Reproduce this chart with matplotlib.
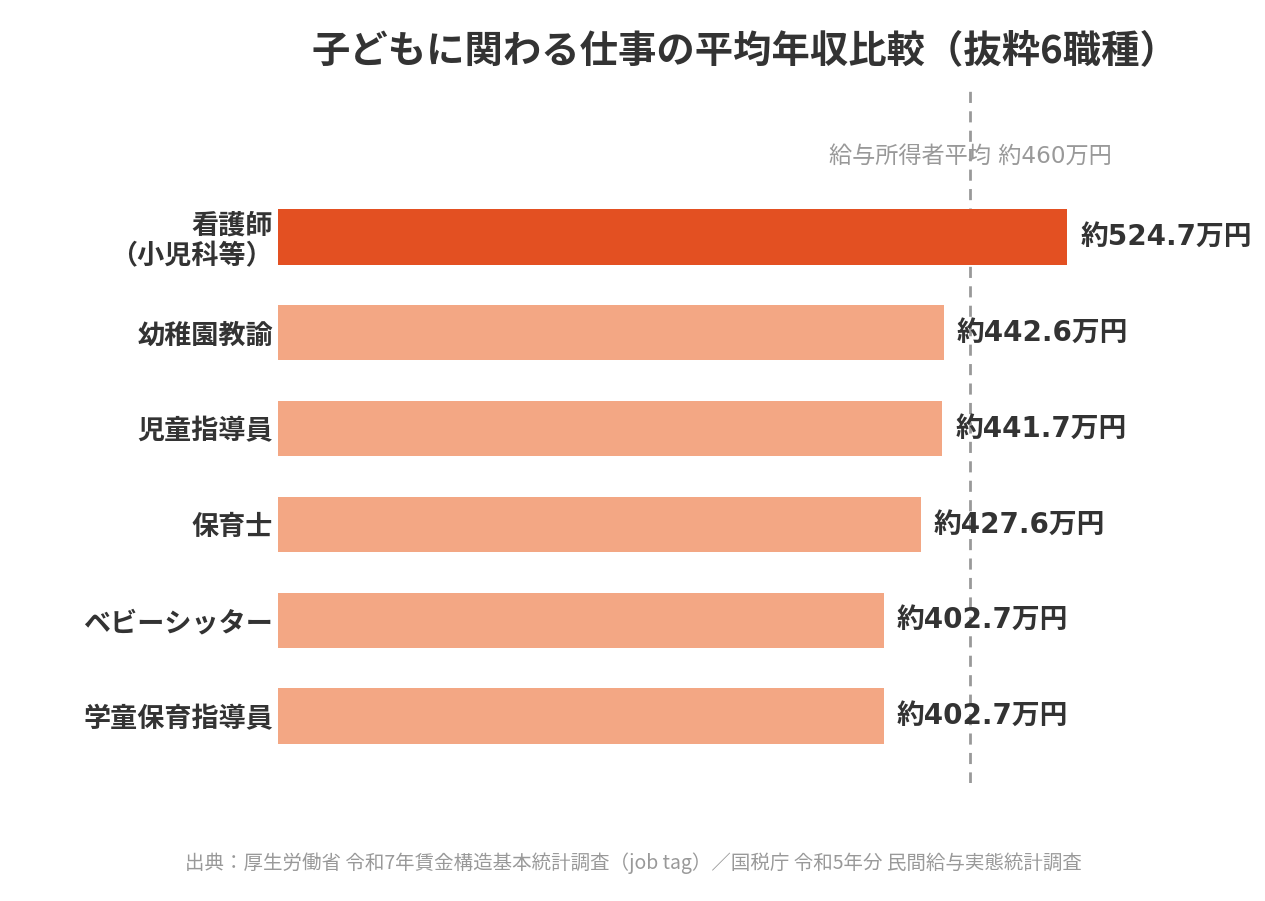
import matplotlib
matplotlib.use("Agg")
import matplotlib.pyplot as plt

plt.rcParams['font.family'] = ['Noto Sans CJK JP', 'DejaVu Sans']

categories = ["看護師\n（小児科等）", "幼稚園教諭", "児童指導員", "保育士", "ベビーシッター", "学童保育指導員"]
values = [524.7, 442.6, 441.7, 427.6, 402.7, 402.7]
value_labels = ["約524.7万円", "約442.6万円", "約441.7万円", "約427.6万円", "約402.7万円", "約402.7万円"]
average_value = 460
average_label = "給与所得者平均 約460万円"
title = "子どもに関わる仕事の平均年収比較（抜粋6職種）"
source = "出典：厚生労働省 令和7年賃金構造基本統計調査（job tag）／国税庁 令和5年分 民間給与実態統計調査"

highlight = "#E35022"
normal = "#F3A784"
text_dark = "#333333"
gray = "#999999"
mixed = ['DejaVu Sans', 'Noto Sans CJK JP']

W, H = 1265, 901
fig = plt.figure(figsize=(W / 100, H / 100), dpi=100)
left_px, right_px, top_px, bottom_px = 278, 1265, 88, 783
ax = fig.add_axes([left_px / W, 1 - bottom_px / H, (right_px - left_px) / W, (bottom_px - top_px) / H])

px_per_unit = (970 - 278) / 460
ax.set_xlim(0, (right_px - left_px) / px_per_unit)
spacing = 95.8
y0 = 237
ax.set_ylim((bottom_px - y0) / spacing, (top_px - y0) / spacing)

ypos = list(range(len(categories)))
colors = [highlight] + [normal] * (len(categories) - 1)
ax.barh(ypos, values, height=0.575, color=colors, zorder=2)
ax.axvline(average_value, color=gray, linestyle=(0, (4, 3)), linewidth=2, zorder=1)

for y, v, lab in zip(ypos, values, value_labels):
    ax.text(v + 8.5, y, lab, ha="left", va="center", fontsize=20, fontweight="bold",
            color=text_dark, zorder=3, family=mixed)

ax.text(average_value, (156 - y0) / spacing, average_label, ha="center", va="center",
        fontsize=16.7, color=gray, zorder=3, family=mixed)

ax.set_yticks(ypos)
ax.set_yticklabels(categories, fontsize=19.5, fontweight="bold", color=text_dark,
                   ha="right", linespacing=1.1)
ax.tick_params(axis="y", length=0, pad=3.5)
ax.tick_params(axis="x", length=0, labelbottom=False)
for s in ax.spines.values():
    s.set_visible(False)

fig.text(745 / W, 1 - 52 / H, title, ha="center", va="center", fontsize=27.6,
         fontweight="bold", color=text_dark)
fig.text(633 / W, 1 - 863 / H, source, ha="center", va="center", fontsize=14, color=gray)

fig.savefig("out.png", dpi=100)
